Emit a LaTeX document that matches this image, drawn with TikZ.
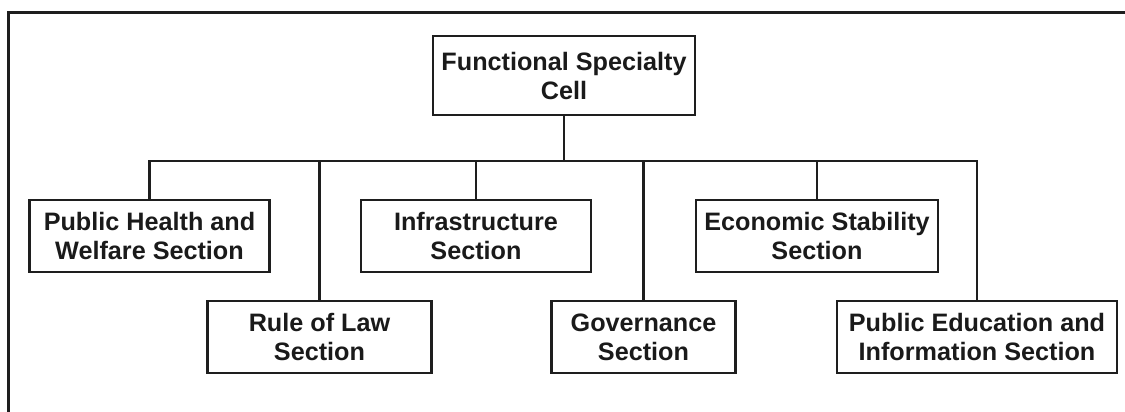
\documentclass[tikz,border=0pt]{standalone}
\usepackage{fontspec}
\setmainfont{Liberation Sans}
\begin{document}
\begin{tikzpicture}[x=1pt,y=-1pt,
  box/.style={draw=linecol, line width=2.9pt, align=center, inner sep=0pt,
    font=\fontsize{25.2}{29}\selectfont\bfseries, text=textcol, minimum height=72pt},
  conn/.style={draw=linecol, line width=2.9pt}
]
\definecolor{linecol}{HTML}{1E1E1E}
\definecolor{textcol}{HTML}{1A1A1A}
\useasboundingbox (0,0) rectangle (1125,412);
\fill[white] (0,0) rectangle (1125,412);
% frame
\draw[draw=linecol, line width=3pt] (8.5,415) -- (8.5,12.5) -- (1130,12.5);
% nodes
\node[box, minimum width=262pt, minimum height=79pt] (top) at (564,75.5) {Functional Specialty\\Cell};
\node[box, minimum width=240pt] (ph) at (149.5,236) {Public Health and\\Welfare Section};
\node[box, minimum width=230pt] (inf) at (476,236) {Infrastructure\\Section};
\node[box, minimum width=242pt] (eco) at (817,236) {Economic Stability\\Section};
\node[box, minimum width=224pt] (rol) at (319.5,337) {Rule of Law\\Section};
\node[box, minimum width=184pt] (gov) at (643.5,337) {Governance\\Section};
\node[box, minimum width=280pt] (pe) at (977,337) {Public Education and\\Information Section};
\coordinate (bus) at (564,161);
% connectors
\draw[conn] (top.south) -- (top.south |- bus);
\draw[conn] (ph.north) -- (ph.north |- bus) -- (pe.north |- bus) -- (pe.north);
\draw[conn] (rol.north) -- (rol.north |- bus);
\draw[conn] (inf.north) -- (inf.north |- bus);
\draw[conn] (gov.north) -- (gov.north |- bus);
\draw[conn] (eco.north) -- (eco.north |- bus);
\end{tikzpicture}
\end{document}
